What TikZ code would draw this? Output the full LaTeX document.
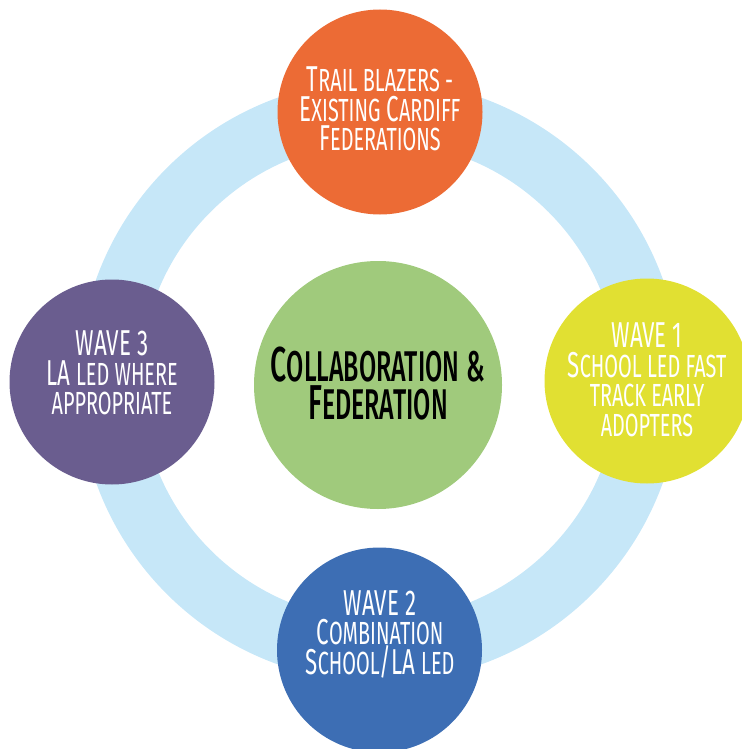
\documentclass[tikz,border=0pt]{standalone}
\usepackage{fontspec}
\setmainfont[FakeStretch=0.62]{Fira Sans}
\newfontfamily\centfont[FakeStretch=0.58]{Fira Sans Medium}
\definecolor{ringblue}{HTML}{C6E7F8}
\definecolor{corange}{HTML}{EC6B35}
\definecolor{cyellow}{HTML}{E1E032}
\definecolor{cpurple}{HTML}{6A5D8F}
\definecolor{cblue}{HTML}{3D6EB4}
\definecolor{cgreen}{HTML}{A0CA7C}
\newcommand{\smc}[1]{{\fontsize{32}{29.5}\selectfont #1}}
\newcommand{\bsmc}[1]{{\fontsize{43}{38}\selectfont #1}}
\tikzset{
  bubble/.style={circle, minimum size=205pt, inner sep=0pt, draw=none},
  outtext/.style={text=white, align=center, font=\fontsize{36}{29.5}\selectfont, inner sep=0pt},
  centtext/.style={text=black, align=center, font=\centfont\fontsize{49}{38}\selectfont, inner sep=0pt}
}
\begin{document}
\begin{tikzpicture}[x=1pt,y=-1pt]
\useasboundingbox (0,0) rectangle (741,749);
\coordinate (ringc) at (379.5,381);
\draw[ringblue, line width=62pt] (ringc) circle[radius=270];
\node[bubble, fill=corange] (top) at (380,112) {};
\node[bubble, fill=cyellow] (right) at (647,381) {};
\node[bubble, fill=cblue] (bottom) at (379.5,650) {};
\node[bubble, fill=cpurple] (left) at (112,382) {};
\node[circle, minimum size=248pt, inner sep=0pt, fill=cgreen] (center) at (378,385) {};
\node[outtext] (toptext) at (380,109) {T\smc{RAIL BLAZERS -}\\E\smc{XISTING} C\smc{ARDIFF}\\F\smc{EDERATIONS}};
\node[outtext] (righttext) at (647,380) {WAVE 1\\S\smc{CHOOL LED FAST}\\\smc{TRACK EARLY}\\\smc{ADOPTERS}};
\node[outtext] (bottomtext) at (380,634) {WAVE 2\\C\smc{OMBINATION}\\S\smc{CHOOL}/LA \smc{LED}};
\node[outtext] (lefttext) at (112,373) {WAVE 3\\LA \smc{LED WHERE}\\\smc{APPROPRIATE}};
\node[centtext] (centertext) at (378,384) {C\bsmc{OLLABORATION} \bsmc{\&}\\F\bsmc{EDERATION}};
\end{tikzpicture}
\end{document}
